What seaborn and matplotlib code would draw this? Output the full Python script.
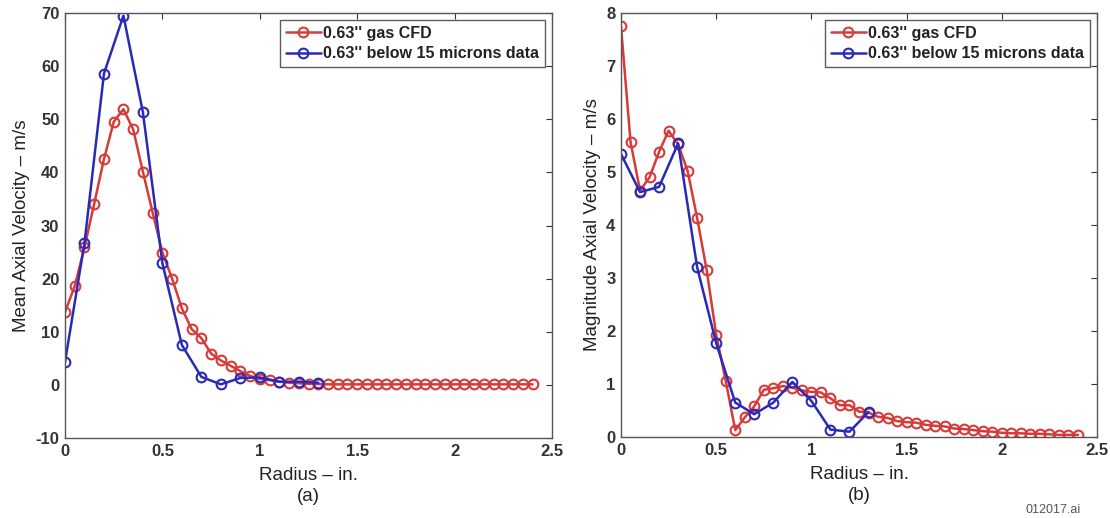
import numpy as np
import pandas as pd
import matplotlib
matplotlib.use("Agg")
import matplotlib.pyplot as plt
import seaborn as sns
from matplotlib.ticker import FormatStrFormatter, MultipleLocator

# ---------------- data ----------------
# (a) mean axial velocity
cfd_a_x = [round(0.05 * i, 2) for i in range(49)]
cfd_a_y = [13.7, 18.6, 25.9, 34.1, 42.5, 49.5, 51.9, 48.1, 40.1, 32.4,
           24.9, 20.0, 14.4, 10.5, 8.8, 5.9, 4.6, 3.6, 2.6, 1.7,
           1.1, 0.9, 0.6, 0.4, 0.3, 0.2, 0.15, 0.1, 0.1, 0.1,
           0.1, 0.1, 0.1, 0.1, 0.1, 0.1, 0.1, 0.1, 0.1, 0.1,
           0.1, 0.1, 0.1, 0.1, 0.1, 0.1, 0.1, 0.1, 0.1]
dat_a_x = [0.0, 0.1, 0.2, 0.3, 0.4, 0.5, 0.6, 0.7, 0.8, 0.9, 1.0, 1.1, 1.2, 1.3]
dat_a_y = [4.3, 26.7, 58.6, 69.5, 51.3, 22.9, 7.5, 1.5, 0.1, 1.3, 1.4, 0.6, 0.6, 0.4]

# (b) magnitude axial velocity
cfd_b_x = [round(0.05 * i, 2) for i in range(49)]
cfd_b_y = [7.75, 5.57, 4.65, 4.9, 5.38, 5.78, 5.52, 5.02, 4.13, 3.15,
           1.93, 1.06, 0.13, 0.37, 0.58, 0.89, 0.92, 0.96, 0.93, 0.88,
           0.85, 0.84, 0.73, 0.6, 0.6, 0.48, 0.46, 0.38, 0.36, 0.3,
           0.28, 0.27, 0.23, 0.21, 0.2, 0.16, 0.15, 0.13, 0.11, 0.1,
           0.08, 0.07, 0.07, 0.06, 0.06, 0.05, 0.04, 0.04, 0.04]
dat_b_x = [0.0, 0.1, 0.2, 0.3, 0.4, 0.5, 0.6, 0.7, 0.8, 0.9, 1.0, 1.1, 1.2, 1.3]
dat_b_y = [5.34, 4.62, 4.72, 5.54, 3.2, 1.77, 0.65, 0.43, 0.65, 1.04, 0.68, 0.14, 0.1, 0.47]

labels = ["0.63'' gas CFD", "0.63'' below 15 microns data"]
x_ticks = [0, 0.5, 1, 1.5, 2, 2.5]

RED = "#d83a3a"
BLUE = "#2a2ab8"

sns.set_theme(style="white")
plt.rcParams["font.family"] = ["Liberation Sans", "DejaVu Sans"]

fig = plt.figure(figsize=(11.1, 5.18), dpi=100)
axA = fig.add_axes([65/1110, 1-438/518, (552-65)/1110, (438-13)/518])
axB = fig.add_axes([621/1110, 1-437/518, (1097-621)/1110, (437-13)/518])


def draw(ax, cx, cy, dx, dy, ylim, ystep, ylabel, tag):
    for xs, ys, c, lab in [(cx, cy, RED, labels[0]), (dx, dy, BLUE, labels[1])]:
        sns.lineplot(x=xs, y=ys, ax=ax, color=c, marker="o", markersize=7,
                     markerfacecolor="none", markeredgecolor=c,
                     markeredgewidth=1.5, linewidth=1.8, label=lab)
    ax.set_xlim(0, 2.5)
    ax.set_ylim(*ylim)
    ax.set_xticks(x_ticks)
    ax.yaxis.set_major_locator(MultipleLocator(ystep))
    ax.xaxis.set_major_formatter(FormatStrFormatter("%g"))
    ax.yaxis.set_major_formatter(FormatStrFormatter("%g"))
    ax.tick_params(direction="in", length=4, width=0.8, colors="#333333",
                   top=True, right=True, labelsize=12, pad=4)
    for lab in ax.get_xticklabels() + ax.get_yticklabels():
        lab.set_fontweight("bold")
        lab.set_color("#333333")
    for sp in ax.spines.values():
        sp.set_color("#555555")
        sp.set_linewidth(1.0)
    ax.set_xlabel("Radius – in.\n(" + tag + ")", fontsize=13.5, color="#222222",
                  labelpad=6, linespacing=1.3)
    ax.set_ylabel(ylabel, fontsize=13.5, color="#222222", labelpad=4)
    leg = ax.legend(loc="upper right", fontsize=11.5, frameon=True, fancybox=False,
                    edgecolor="#333333", handlelength=2.2, handletextpad=0.15,
                    borderpad=0.35, labelspacing=0.35, borderaxespad=0.45)
    leg.get_frame().set_linewidth(1.0)
    for t in leg.get_texts():
        t.set_fontweight("bold")
        t.set_color("#222222")


draw(axA, cfd_a_x, cfd_a_y, dat_a_x, dat_a_y, (-10, 70), 10,
     "Mean Axial Velocity – m/s", "a")
draw(axB, cfd_b_x, cfd_b_y, dat_b_x, dat_b_y, (0, 8), 1,
     "Magnitude Axial Velocity – m/s", "b")

fig.text(1025/1110, 2/518, "012017.ai", fontsize=9, color="#555555",
         ha="left", va="bottom")

fig.savefig("out.png", dpi=100, facecolor="white")
